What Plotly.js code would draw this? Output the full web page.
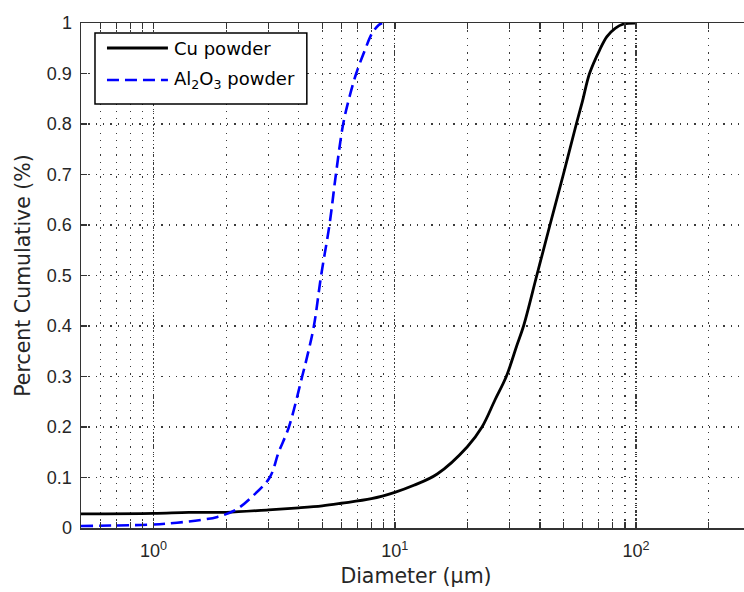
<!DOCTYPE html>
<html>
<head>
<meta charset="utf-8">
<script src="https://cdn.plot.ly/plotly-3.0.1.min.js"></script>
<style>
html,body{margin:0;padding:0;overflow:hidden;background:#fff;}
#chart{width:760px;height:592px;}
</style>
</head>
<body>
<div id="chart"></div>
<script>
// Cu powder cumulative distribution
const cuDiameter = [0.5, 1, 1.4, 2, 3, 4, 5, 6, 8, 10, 12, 15, 20, 23, 26, 29, 32, 34.2, 38.8, 44.0, 50.0, 56.6, 60, 64.2, 70.7, 75.8, 82, 89, 100];
const cuCumulative = [0.028, 0.029, 0.031, 0.031, 0.036, 0.040, 0.044, 0.049, 0.058, 0.0706, 0.0845, 0.107, 0.161, 0.2, 0.253, 0.3, 0.36, 0.4, 0.5, 0.6, 0.7, 0.8, 0.845, 0.9, 0.9465, 0.973, 0.9895, 0.998, 1.0];

// Al2O3 powder cumulative distribution
const alDiameter = [0.5, 1, 1.25, 1.57, 1.84, 2.19, 2.56, 3.03, 3.3, 3.64, 4.13, 4.30, 4.62, 4.95, 5.36, 5.7, 6.11, 6.5, 6.92, 7.5, 8.06, 8.58, 8.86];
const alCumulative = [0.004, 0.007, 0.0105, 0.016, 0.022, 0.036, 0.062, 0.1, 0.15, 0.2, 0.3, 0.333, 0.4, 0.5, 0.6, 0.7, 0.8, 0.855, 0.9, 0.945, 0.98, 0.996, 1.0];

const seriesNames = ['Cu powder', 'Al<sub>2</sub>O<sub>3</sub> powder'];
const seriesColors = ['#000000', '#0000ff'];
const xTickVals = [1, 10, 100];
const xTickText = ['10<sup>0</sup>', '10<sup>1</sup>', '10<sup>2</sup>'];

const tickFont = {family: 'Liberation Sans, Arial, sans-serif', size: 18, color: '#262626'};
const titleFont = {family: 'DejaVu Sans, sans-serif', size: 20.5, color: '#262626'};
const legendFont = {family: 'DejaVu Sans, sans-serif', size: 18, color: '#000000'};
const gridColor = '#3a3a3a';
const cuLine = {color: seriesColors[0], width: 2.8, shape: 'spline', smoothing: 1.0};
const alLine = {color: seriesColors[1], width: 2.6, dash: '12px,6px', shape: 'spline', smoothing: 1.0};

const traces = [
  {x: cuDiameter, y: cuCumulative, type: 'scatter', mode: 'lines', name: seriesNames[0],
   line: cuLine, showlegend: false},
  {x: alDiameter, y: alCumulative, type: 'scatter', mode: 'lines', name: seriesNames[1],
   line: alLine, showlegend: false}
];

// legend box drawn in paper coordinates (plot area: 81..751.5 px, 23..528 px)
const plotL = 81, plotW = 670.5, plotB = 528, plotH = 505;
const px = v => (v - plotL) / plotW;
const py = v => (plotB - v) / plotH;
const legendRows = [48, 80];

const shapes = [
  {type: 'rect', xref: 'paper', yref: 'paper', x0: px(95), x1: px(307), y0: py(104), y1: py(33),
   line: {color: '#000000', width: 1.5}, fillcolor: '#ffffff', layer: 'above'}
];
const annotations = [];
[cuLine, alLine].forEach((ln, i) => {
  shapes.push({type: 'line', xref: 'paper', yref: 'paper', x0: px(107), x1: px(168),
    y0: py(legendRows[i]), y1: py(legendRows[i]), layer: 'above',
    line: {color: ln.color, width: ln.width, dash: ln.dash || 'solid'}});
  annotations.push({xref: 'paper', yref: 'paper', x: px(172), y: py(legendRows[i]),
    xanchor: 'left', yanchor: 'middle', showarrow: false, text: seriesNames[i], font: legendFont});
});

const layout = {
  width: 760, height: 592,
  margin: {l: 81, r: 8.5, t: 23, b: 64},
  paper_bgcolor: '#ffffff', plot_bgcolor: '#ffffff',
  showlegend: false,
  shapes: shapes,
  annotations: annotations,
  xaxis: {
    type: 'log', range: [Math.log10(0.5), Math.log10(300)],
    tickmode: 'array', tickvals: xTickVals, ticktext: xTickText,
    ticks: 'inside', ticklen: 6, tickwidth: 1.5, tickcolor: '#333',
    showline: true, linecolor: '#333', linewidth: 1.5, mirror: 'ticks',
    showgrid: true, gridcolor: gridColor, gridwidth: 1.2, griddash: '1.3px,2.6px',
    zeroline: false,
    tickfont: tickFont, ticklabelstandoff: 6,
    minor: {dtick: 'D1', ticks: 'inside', ticklen: 6, tickwidth: 1.2, tickcolor: '#333',
      showgrid: true, gridcolor: gridColor, gridwidth: 1.2, griddash: '1.3px,6px'},
    title: {text: 'Diameter (\u03bcm)', font: titleFont, standoff: 8}
  },
  yaxis: {
    range: [0, 1], dtick: 0.1, tick0: 0,
    ticks: 'inside', ticklen: 6, tickwidth: 1.5, tickcolor: '#333',
    showline: true, linecolor: '#333', linewidth: 1.5, mirror: 'ticks',
    showgrid: true, gridcolor: gridColor, gridwidth: 1.2, griddash: '1.3px,6px',
    zeroline: false,
    tickfont: tickFont, ticklabelstandoff: 4,
    title: {text: 'Percent Cumulative (%)', font: titleFont, standoff: 10}
  }
};

Plotly.newPlot('chart', traces, layout, {displayModeBar: false, staticPlot: true});
</script>
</body>
</html>
